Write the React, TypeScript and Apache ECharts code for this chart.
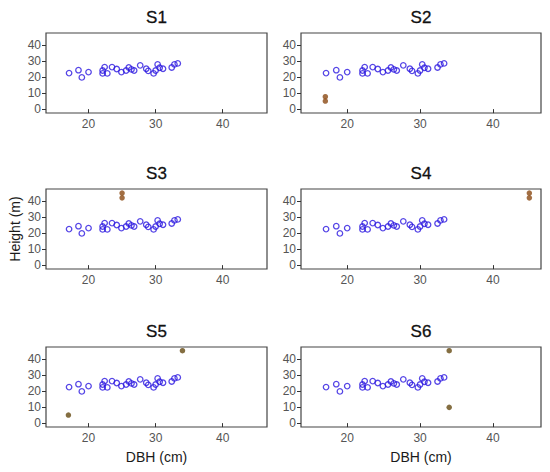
import React, { useEffect, useRef } from "react";
import * as echarts from "echarts";

const panelNames = ["S1", "S2", "S3", "S4", "S5", "S6"];

const baseDBH = [17.1, 18.5, 19.0, 20.0, 22.1, 22.1, 22.4, 22.8, 23.5, 24.2, 24.9, 25.6, 26.0, 26.4, 26.8, 27.7, 28.6, 28.9, 29.7, 30.0, 30.3, 30.6, 31.1, 32.4, 32.8, 33.3];
const baseHeight = [22.4, 24.2, 19.7, 23.0, 24.0, 22.2, 26.1, 22.2, 26.1, 24.9, 23.0, 24.0, 25.9, 24.7, 24.0, 27.2, 25.1, 23.8, 22.2, 24.0, 27.8, 25.7, 25.1, 25.9, 27.8, 28.4];

// outliers per panel: [dbh, height]
const outlierDBH = [[], [17, 17], [25, 25], [45, 45], [17, 34], [34, 34]];
const outlierHeight = [[], [7.7, 5.0], [44.8, 41.8], [44.8, 41.8], [5.0, 45.0], [45.0, 9.8]];
const outlierColors = ["#8b4a14", "#8b4a14", "#8b4a14", "#8b4a14", "#654a12", "#654a12"];

const yTicks = [0, 10, 20, 30, 40];
const xTicks = [20, 30, 40];

const grids = [
  { left: 46, top: 33, width: 221, height: 80 },
  { left: 301, top: 33, width: 240, height: 80 },
  { left: 46, top: 189, width: 221, height: 80 },
  { left: 301, top: 189, width: 240, height: 80 },
  { left: 46, top: 347, width: 221, height: 80 },
  { left: 301, top: 347, width: 240, height: 80 },
];

export default function App() {
  const ref = useRef<HTMLDivElement>(null);
  useEffect(() => {
    if (!ref.current) return;
    const chart = echarts.init(ref.current, null, { renderer: "svg" });
    const font = "Liberation Sans, Arial, sans-serif";
    const base = baseDBH.map((x, i) => [x, baseHeight[i]]);
    const series: any[] = [];
    panelNames.forEach((_, p) => {
      series.push({
        type: "scatter",
        xAxisIndex: p,
        yAxisIndex: p,
        data: base,
        symbol: "circle",
        symbolSize: 5.5,
        itemStyle: { color: "rgba(0,0,0,0)", borderColor: "#2a16e0", borderWidth: 1.3 },
        emphasis: { disabled: true },
        silent: true,
      });
      if (outlierDBH[p].length) {
        series.push({
          type: "scatter",
          xAxisIndex: p,
          yAxisIndex: p,
          data: outlierDBH[p].map((x, i) => [x, outlierHeight[p][i]]),
          symbol: "circle",
          symbolSize: 5.5,
          itemStyle: { color: outlierColors[p] },
          emphasis: { disabled: true },
          silent: true,
        });
      }
    });
    const graphics: any[] = [];
    panelNames.forEach((name, p) => {
      const g = grids[p];
      graphics.push({
        type: "text",
        x: g.left + g.width / 2,
        y: g.top - 16,
        style: { text: name, font: `17px ${font}`, fill: "#111111", align: "center", verticalAlign: "middle", stroke: "#111111", lineWidth: 0.3 },
      });
    });
    graphics.push({
      type: "text",
      x: 15,
      y: 229,
      rotation: Math.PI / 2,
      style: { text: "Height (m)", font: `14px ${font}`, fill: "#1a1a1a", align: "center", verticalAlign: "middle" },
    });
    [4, 5].forEach((p) => {
      const g = grids[p];
      graphics.push({
        type: "text",
        x: g.left + g.width / 2,
        y: 457,
        style: { text: "DBH (cm)", font: `14px ${font}`, fill: "#1a1a1a", align: "center", verticalAlign: "middle" },
      });
    });
    chart.setOption({
      animation: false,
      backgroundColor: "#ffffff",
      grid: grids.map((g) => ({ ...g, show: true, borderColor: "#444444", borderWidth: 1.2, backgroundColor: "#ffffff" })),
      xAxis: grids.map((_, p) => ({
        type: "value",
        gridIndex: p,
        min: 13.66,
        max: 46.6,
        axisLine: { show: false },
        splitLine: { show: false },
        axisTick: { show: true, length: 4, lineStyle: { color: "#333333" }, customValues: xTicks },
        axisLabel: { color: "#555555", fontSize: 12, fontFamily: font, margin: 5, customValues: xTicks },
      })),
      yAxis: grids.map((_, p) => ({
        type: "value",
        gridIndex: p,
        min: -2.4,
        max: 47.3,
        axisLine: { show: false },
        splitLine: { show: false },
        axisTick: { show: true, length: 4, lineStyle: { color: "#333333" }, customValues: yTicks },
        axisLabel: { color: "#555555", fontSize: 12, fontFamily: font, margin: 5, customValues: yTicks },
      })),
      series,
      graphic: graphics,
    });
    return () => chart.dispose();
  }, []);
  return <div ref={ref} style={{ width: 550, height: 472, position: "absolute", left: 0, top: 0 }} />;
}
